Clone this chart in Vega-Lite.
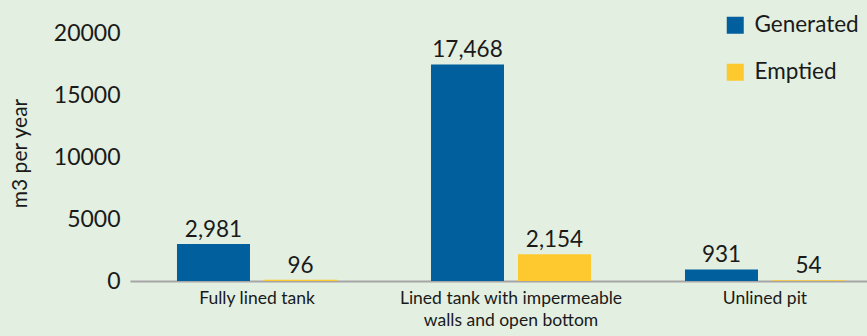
{
  "$schema": "https://vega.github.io/schema/vega-lite/v6.json",
  "width": 737,
  "height": 248,
  "autosize": {"type": "none"},
  "padding": {"left": 130, "top": 33, "right": 0, "bottom": 55},
  "background": "#e2efe1",
  "config": {
    "view": {"stroke": null},
    "font": "Lato",
    "text": {"font": "Lato"}
  },
  "data": {
    "values": [
      {"system": "Fully lined tank", "type": "Generated", "value": 2981},
      {"system": "Fully lined tank", "type": "Emptied", "value": 96},
      {"system": "Lined tank with impermeable walls and open bottom", "type": "Generated", "value": 17468},
      {"system": "Lined tank with impermeable walls and open bottom", "type": "Emptied", "value": 2154},
      {"system": "Unlined pit", "type": "Generated", "value": 931},
      {"system": "Unlined pit", "type": "Emptied", "value": 54}
    ]
  },
  "encoding": {
    "x": {
      "field": "system",
      "type": "nominal",
      "sort": null,
      "scale": {"range": [0, 762], "paddingInner": 0.37, "paddingOuter": 0.185},
      "axis": {
        "title": null,
        "labelAngle": 0,
        "labelFont": "Lato",
        "labelFontSize": 17.5,
        "labelColor": "#1a1a1a",
        "labelPadding": 8,
        "labelLineHeight": 22,
        "labelLimit": 400,
        "ticks": false,
        "domainColor": "#a6a6a6",
        "domainWidth": 2,
        "labelExpr": "datum.value == 'Lined tank with impermeable walls and open bottom' ? ['Lined tank with impermeable', 'walls and open bottom'] : datum.value"
      }
    },
    "xOffset": {
      "field": "type",
      "type": "nominal",
      "sort": ["Generated", "Emptied"],
      "scale": {"paddingInner": 0.161, "paddingOuter": 0}
    },
    "y": {
      "field": "value",
      "type": "quantitative",
      "scale": {"domain": [0, 20000]},
      "axis": {
        "title": "m3 per year",
        "titleFont": "Lato",
        "titleFontSize": 21,
        "titleFontWeight": "normal",
        "titleColor": "#1a1a1a",
        "titleX": -110,
        "titleY": 120,
        "titleAlign": "center",
        "titleBaseline": "middle",
        "values": [0, 5000, 10000, 15000, 20000],
        "format": "d",
        "labelFont": "Lato",
        "labelFontSize": 23,
        "labelColor": "#1a1a1a",
        "labelPadding": 10,
        "ticks": false,
        "domain": false,
        "grid": false
      }
    }
  },
  "layer": [
    {
      "mark": {"type": "bar"},
      "encoding": {
        "color": {
          "field": "type",
          "type": "nominal",
          "sort": ["Generated", "Emptied"],
          "scale": {"domain": ["Generated", "Emptied"], "range": ["#015f9e", "#fec92f"]},
          "legend": {
            "title": null,
            "orient": "none",
            "legendX": 594,
            "legendY": -19,
            "symbolType": "square",
            "symbolSize": 289,
            "symbolStrokeWidth": 0,
            "labelFont": "Lato",
            "labelFontSize": 22.5,
            "labelColor": "#1a1a1a",
            "labelOffset": 8,
            "rowPadding": 24
          }
        }
      }
    },
    {
      "mark": {"type": "text", "baseline": "alphabetic", "dy": -7, "fontSize": 22.5, "color": "#1a1a1a"},
      "encoding": {
        "text": {"field": "value", "type": "quantitative", "format": ",d"}
      }
    }
  ]
}
